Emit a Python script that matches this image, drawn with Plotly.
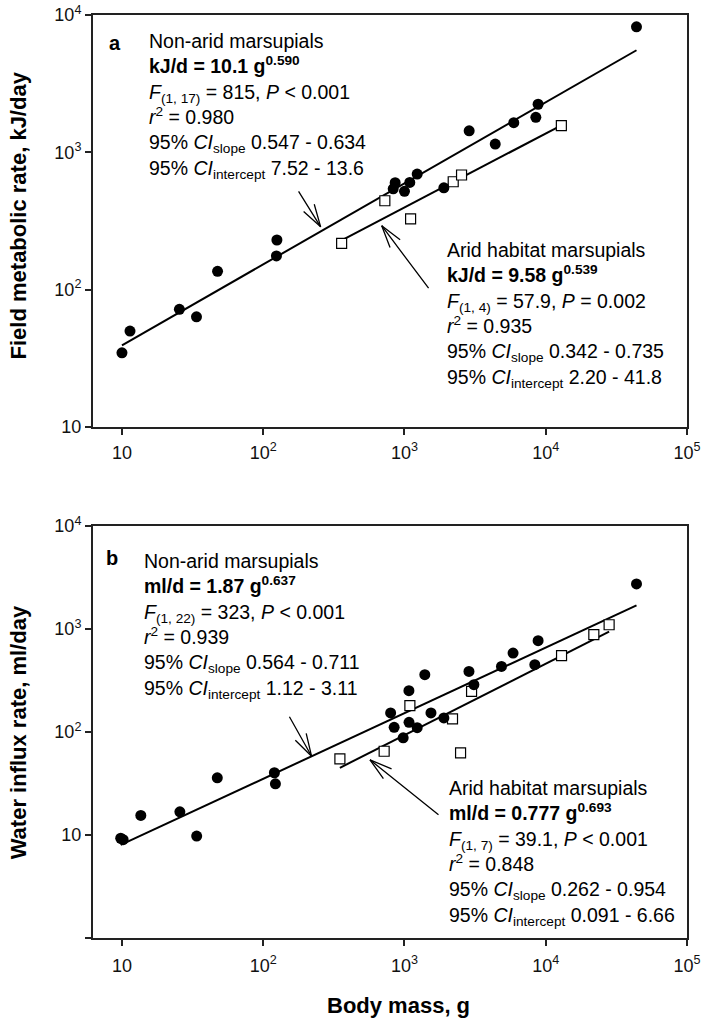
import math
import plotly.graph_objects as go

# ---------------- data ----------------
# Panel a: field metabolic rate (kJ/day) vs body mass (g)
a_nonarid_mass = [10, 11.4, 25.5, 33.7, 47.5, 124, 125, 832, 859, 1000, 1090, 1230, 1900,
                  2870, 4390, 5940, 8510, 8830, 43900]
a_nonarid_fmr = [34.7, 50, 72, 63.5, 136, 176, 230, 543, 601, 520, 604, 695, 552,
                 1435, 1148, 1645, 1800, 2240, 8200]
a_arid_mass = [359, 726, 1105, 2213, 2535, 12900]
a_arid_fmr = [217, 444, 328, 611, 684, 1563]

# Panel b: water influx rate (ml/day) vs body mass (g)
b_nonarid_mass = [9.8, 10.2, 13.6, 25.7, 33.8, 47.3, 120, 122, 798, 845, 979, 1075, 1077,
                  1230, 1393, 1540, 1900, 2860, 3100, 4860, 5870, 8370, 8830, 43900]
b_nonarid_wir = [9.3, 9.0, 15.5, 16.8, 9.75, 35.9, 40.2, 31.4, 153, 111, 87.8, 252, 124,
                 110, 360, 153, 137, 387, 288, 433, 583, 450, 769, 2740]
b_arid_mass = [349, 718, 1092, 2188, 2495, 2985, 12940, 21900, 28100]
b_arid_wir = [54.8, 65, 180, 134, 62.7, 248, 550, 880, 1099]

# allometric fits: y = coef * mass ** exponent
fit_a_nonarid = (10.1, 0.590)
fit_a_arid = (9.58, 0.539)
fit_b_nonarid = (1.87, 0.637)
fit_b_arid = (0.777, 0.693)

x_tickvals = [10, 100, 1000, 10000, 100000]
x_ticktext = ["10", "10<sup>2</sup>", "10<sup>3</sup>", "10<sup>4</sup>", "10<sup>5</sup>"]
a_tickvals = [10, 100, 1000, 10000]
a_ticktext = ["10", "10<sup>2</sup>", "10<sup>3</sup>", "10<sup>4</sup>"]
b_tickvals = [1, 10, 100, 1000, 10000]
b_ticktext = ["", "10", "10<sup>2</sup>", "10<sup>3</sup>", "10<sup>4</sup>"]

txt_a_nonarid = ("Non-arid marsupials<br><b>kJ/d = 10.1 g<sup>0.590</sup></b><br>"
                 "<i>F</i><sub>(1, 17)</sub> = 815, <i>P</i> &lt; 0.001<br>"
                 "<i>r</i><sup>2</sup> = 0.980<br>"
                 "95% <i>CI</i><sub>slope</sub> 0.547 - 0.634<br>"
                 "95% <i>CI</i><sub>intercept</sub> 7.52 - 13.6")
txt_a_arid = ("Arid habitat marsupials<br><b>kJ/d = 9.58 g<sup>0.539</sup></b><br>"
              "<i>F</i><sub>(1, 4)</sub> = 57.9, <i>P</i> = 0.002<br>"
              "<i>r</i><sup>2</sup> = 0.935<br>"
              "95% <i>CI</i><sub>slope</sub> 0.342 - 0.735<br>"
              "95% <i>CI</i><sub>intercept</sub> 2.20 - 41.8")
txt_b_nonarid = ("Non-arid marsupials<br><b>ml/d = 1.87 g<sup>0.637</sup></b><br>"
                 "<i>F</i><sub>(1, 22)</sub> = 323, <i>P</i> &lt; 0.001<br>"
                 "<i>r</i><sup>2</sup> = 0.939<br>"
                 "95% <i>CI</i><sub>slope</sub> 0.564 - 0.711<br>"
                 "95% <i>CI</i><sub>intercept</sub> 1.12 - 3.11")
txt_b_arid = ("Arid habitat marsupials<br><b>ml/d = 0.777 g<sup>0.693</sup></b><br>"
              "<i>F</i><sub>(1, 7)</sub> = 39.1, <i>P</i> &lt; 0.001<br>"
              "<i>r</i><sup>2</sup> = 0.848<br>"
              "95% <i>CI</i><sub>slope</sub> 0.262 - 0.954<br>"
              "95% <i>CI</i><sub>intercept</sub> 0.091 - 6.66")

FONT = "Liberation Sans, Arial, sans-serif"

fig = go.Figure()


def fit_line(masses, fit, xa, ya):
    lo, hi = min(masses), max(masses)
    c, e = fit
    fig.add_trace(go.Scatter(x=[lo, hi], y=[c * lo ** e, c * hi ** e], mode="lines",
                             line=dict(color="black", width=2), xaxis=xa, yaxis=ya,
                             showlegend=False, hoverinfo="skip"))


def pts(x, y, xa, ya, filled):
    if filled:
        m = dict(symbol="circle", size=11, color="black", line=dict(width=0))
    else:
        m = dict(symbol="square", size=10, color="white", line=dict(color="black", width=1.2))
    fig.add_trace(go.Scatter(x=x, y=y, mode="markers", marker=m, xaxis=xa, yaxis=ya,
                             showlegend=False))


fit_line(a_nonarid_mass, fit_a_nonarid, "x", "y")
fit_line(a_arid_mass, fit_a_arid, "x", "y")
pts(a_arid_mass, a_arid_fmr, "x", "y", False)
pts(a_nonarid_mass, a_nonarid_fmr, "x", "y", True)

fit_line(b_nonarid_mass, fit_b_nonarid, "x2", "y2")
fit_line(b_arid_mass, fit_b_arid, "x2", "y2")
pts(b_arid_mass, b_arid_wir, "x2", "y2", False)
pts(b_nonarid_mass, b_nonarid_wir, "x2", "y2", True)

annotations = []


def arrow(tipx, tipy, xref, yref, dx, dy):
    base = dict(x=math.log10(tipx), y=math.log10(tipy), xref=xref, yref=yref, text="",
                showarrow=True, arrowhead=0, arrowwidth=1.3, arrowcolor="black",
                standoff=0, startstandoff=0)
    annotations.append(dict(base, ax=dx, ay=dy))
    ang = math.atan2(dy, dx)
    L = 25
    for s in (-1, 1):
        a2 = ang + s * math.radians(16)
        annotations.append(dict(base, ax=L * math.cos(a2), ay=L * math.sin(a2)))


def on_fit(mass, fit, factor=1.0):
    return fit[0] * mass ** fit[1] * factor


arrow(255, on_fit(255, fit_a_nonarid, 1.08), "x", "y", -23, -37)
arrow(690, on_fit(690, fit_a_arid, 0.9), "x", "y", 48, 64)
arrow(220, on_fit(220, fit_b_nonarid), "x2", "y2", -23, -41)
arrow(570, on_fit(570, fit_b_arid, 0.85), "x2", "y2", 70, 56)


def block(text, x, y):
    annotations.append(dict(text=text, x=x, y=y, xref="paper", yref="paper", xanchor="left",
                            yanchor="middle", align="left", showarrow=False,
                            font=dict(family=FONT, size=19.5, color="black")))


block(txt_a_nonarid, 0.0909, 0.9012)
block(txt_a_arid, 0.5926, 0.6755)
block(txt_b_nonarid, 0.0825, 0.3375)
block(txt_b_arid, 0.596, 0.0925)

for lab, x, y in (("a", 0.037, 0.970), ("b", 0.032, 0.4117)):
    annotations.append(dict(text="<b>%s</b>" % lab, x=x, y=y, xref="paper", yref="paper",
                            xanchor="center", yanchor="middle", showarrow=False,
                            font=dict(family=FONT, size=20, color="black")))

# axis titles
annotations.append(dict(text="<b>Field metabolic rate, kJ/day</b>", x=-0.126, y=0.783,
                        xref="paper", yref="paper", textangle=-90, showarrow=False,
                        xanchor="center", yanchor="middle",
                        font=dict(family=FONT, size=22, color="black")))
annotations.append(dict(text="<b>Water influx rate, ml/day</b>", x=-0.126, y=0.223,
                        xref="paper", yref="paper", textangle=-90, showarrow=False,
                        xanchor="center", yanchor="middle",
                        font=dict(family=FONT, size=22, color="black")))
annotations.append(dict(text="<b>Body mass, g</b>", x=0.514, y=-0.0726,
                        xref="paper", yref="paper", showarrow=False,
                        xanchor="center", yanchor="middle",
                        font=dict(family=FONT, size=22, color="black")))

axis_common = dict(type="log", showgrid=False, zeroline=False, showline=True,
                   linecolor="#222", linewidth=2, mirror=True, ticks="outside",
                   ticklen=6, tickwidth=1.5, tickcolor="#222", automargin=False,
                   tickfont=dict(family=FONT, size=18, color="#111"))

fig.update_layout(
    width=705, height=1019,
    margin=dict(l=93, r=18, t=15, b=81),
    paper_bgcolor="white", plot_bgcolor="white",
    showlegend=False,
    xaxis=dict(axis_common, domain=[0, 1], anchor="y", range=[0.795, 5.0],
               tickvals=x_tickvals, ticktext=x_ticktext, ticklabelstandoff=2),
    yaxis=dict(axis_common, domain=[0.5536, 1], anchor="x", range=[1, 4],
               tickvals=a_tickvals, ticktext=a_ticktext),
    xaxis2=dict(axis_common, domain=[0, 1], anchor="y2", range=[0.795, 5.0],
                tickvals=x_tickvals, ticktext=x_ticktext, ticklabelstandoff=4),
    yaxis2=dict(axis_common, domain=[0, 0.4464], anchor="x2", range=[0, 4],
                tickvals=b_tickvals, ticktext=b_ticktext),
    annotations=annotations,
)

fig.write_html("out.html")
